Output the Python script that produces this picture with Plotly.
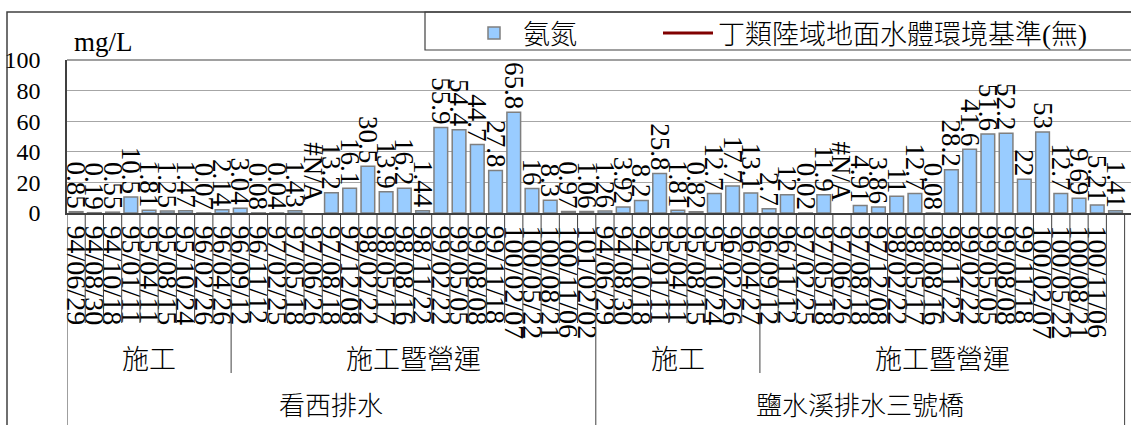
import plotly.graph_objects as go

# ---------------- data ----------------
stations = ["看西排水", "鹽水溪排水三號橋"]
phases = ["施工", "施工暨營運"]

dates_a_const = ["94/06/29", "94/08/30", "94/10/18", "95/01/11", "95/04/11",
                 "95/08/15", "95/10/24", "96/02/26", "96/04/26"]
dates_a_oper = ["96/09/12", "96/11/12", "97/02/25", "97/05/18", "97/06/26",
                "97/08/18", "97/12/08", "98/02/22", "98/05/17", "98/08/16",
                "98/11/22", "99/02/22", "99/05/05", "99/08/08", "99/11/18",
                "100/02/07", "100/05/22", "100/08/21", "100/11/06", "101/02/02"]
dates_b_const = ["94/06/29", "94/08/30", "94/10/18", "95/01/11", "95/04/11",
                 "95/08/15", "95/10/24", "96/02/26", "96/04/27"]
dates_b_oper = ["96/09/12", "96/11/12", "97/02/25", "97/05/18", "97/06/26",
                "97/08/18", "97/12/08", "98/02/22", "98/05/17", "98/08/16",
                "98/11/22", "99/02/22", "99/05/05", "99/08/08", "99/11/18",
                "100/02/07", "100/05/22", "100/08/21", "100/11/06", "101/02/02"]

nh3_a_const = [0.85, 0.19, 0.55, 10.5, 1.81, 1.25, 1.47, 0.07, 2.14]
nh3_a_oper = [3.04, 0.08, 0.04, 1.43, None, 13.2, 16.1, 30.5, 13.9, 16.2,
              1.44, 55.9, 54.4, 44.7, 27.8, 65.8, 16, 8.3, 0.97, 1.06]
nh3_b_const = [1.26, 3.92, 8.2, 25.8, 1.81, 0.82, 12.7, 17.7, 13.1]
nh3_b_oper = [2.7, 12, 0.02, 11.9, None, 4.91, 3.86, 11, 12.7, 0.08,
              28.2, 41.6, 51.6, 52.2, 22, 53, 12.7, 9.69, 5.21, 1.41]

series_name = "氨氮"
standard_name = "丁類陸域地面水體環境基準(無)"
y_unit = "mg/L"
y_ticks = [0, 20, 40, 60, 80, 100]

# ---------------- assemble ----------------
groups = [
    (stations[0], phases[0], dates_a_const, nh3_a_const),
    (stations[0], phases[1], dates_a_oper, nh3_a_oper),
    (stations[1], phases[0], dates_b_const, nh3_b_const),
    (stations[1], phases[1], dates_b_oper, nh3_b_oper),
]
dates, values = [], []
group_spans = []
for st, ph, d, v in groups:
    s = len(dates)
    dates += d
    values += v
    group_spans.append((st, ph, s, len(dates) - 1))
xs = list(range(len(dates)))

station_spans = []
for st in stations:
    idx = [g for g in group_spans if g[0] == st]
    station_spans.append((st, idx[0][2], idx[-1][3]))

def fmt(v):
    return "" if v is None else ("%g" % v)

SERIF = "Liberation Serif"
CJK = "Noto Sans CJK TC"

W, H = 1131, 425
ML, MT, MB = 67, 60, 212
plot_h = H - MT - MB
plot_w = W - ML
def py(Y):  # pixel y -> paper y
    return (H - MB - Y) / plot_h
def px(X):  # pixel x -> paper x
    return (X - ML) / plot_w

fig = go.Figure()
fig.add_trace(go.Bar(
    x=xs, y=values, name=series_name, legend="legend",
    marker=dict(color="#99CCFF", line=dict(color="#7F7F7F", width=1.5)),
    text=[fmt(v) for v in values], textposition="outside", textangle=90,
    textfont=dict(family=SERIF, size=27, color="black"),
    constraintext="none", cliponaxis=False,
))
fig.add_trace(go.Scatter(
    x=xs, y=[None] * len(xs), mode="lines", name=standard_name, legend="legend2",
    line=dict(color="#800000", width=3),
))

shapes = []
annotations = []
for i, v in enumerate(values):
    if v is None:
        annotations.append(dict(x=xs[i], y=0, xref="x", yref="y", text="#N/A",
                                showarrow=False, textangle=90, yanchor="bottom",
                                yshift=8, font=dict(family=SERIF, size=27, color="black")))

line_col = "#404040"
boundary_station, boundary_phase = set(), set()
for st, s, e in station_spans:
    boundary_station.update([s - 0.5, e + 0.5])
for st, ph, s, e in group_spans:
    boundary_phase.update([s - 0.5, e + 0.5])
for k in range(len(xs) + 1):
    b = k - 0.5
    if b in boundary_station:
        y1 = py(430)
    elif b in boundary_phase:
        y1 = py(373)
    else:
        y1 = py(323)
    shapes.append(dict(type="line", xref="x", yref="paper", x0=b, x1=b,
                       y0=0, y1=y1, line=dict(color=line_col, width=1)))

for st, ph, s, e in group_spans:
    annotations.append(dict(x=(s + e) / 2, y=py(357), xref="x", yref="paper",
                            text=ph, showarrow=False, yanchor="middle",
                            font=dict(family=CJK, size=27, color="black", weight=300)))
for st, s, e in station_spans:
    annotations.append(dict(x=(s + e) / 2, y=py(403), xref="x", yref="paper",
                            text=st, showarrow=False, yanchor="middle", borderpad=0,
                            font=dict(family=CJK, size=26, color="black", weight=300)))

annotations.append(dict(x=px(72), y=py(42), xref="paper", yref="paper", text=y_unit,
                        showarrow=False, xanchor="left", yanchor="middle",
                        font=dict(family=SERIF, size=27, color="black")))

# plot area top border
shapes.append(dict(type="line", xref="paper", yref="paper", x0=0, x1=1, y0=1, y1=1,
                   line=dict(color="#808080", width=1.5)))
# chart outer border
shapes.append(dict(type="rect", xref="paper", yref="paper", x0=px(7), x1=px(1140),
                   y0=py(12), y1=py(440), line=dict(color="#404040", width=1.5),
                   layer="below"))
# legend frame
shapes.append(dict(type="rect", xref="paper", yref="paper", x0=px(425), x1=px(1140),
                   y0=py(12), y1=py(50), line=dict(color="#404040", width=1.2),
                   layer="below"))

legend_font = dict(family=SERIF + ", " + CJK, size=27, color="black", weight=300)
fig.update_layout(
    width=W, height=H,
    margin=dict(l=ML, r=0, t=MT, b=MB, pad=0),
    paper_bgcolor="white", plot_bgcolor="white",
    bargap=0.25,
    showlegend=True,
    legend=dict(orientation="h", x=px(465), y=py(9), xanchor="left", yanchor="top",
                borderwidth=0, bgcolor="rgba(0,0,0,0)", font=legend_font, itemwidth=48),
    legend2=dict(orientation="h", x=px(658), y=py(9), xanchor="left", yanchor="top",
                 borderwidth=0, bgcolor="rgba(0,0,0,0)", font=legend_font, itemwidth=50),
    shapes=shapes, annotations=annotations,
    font=dict(family=SERIF, color="black"),
)
fig.update_xaxes(
    range=[-0.5, 57.85], tickmode="array", tickvals=xs, ticktext=dates,
    tickangle=90, tickfont=dict(family=SERIF, size=28, color="black"),
    showgrid=False, zeroline=False, showline=True, linecolor="#404040", linewidth=2,
    ticks="outside", ticklen=5, tickcolor="rgba(0,0,0,0)",
)
fig.update_yaxes(
    range=[0, 100], tickmode="array", tickvals=y_ticks,
    tickfont=dict(family=SERIF, size=24, color="black"),
    showgrid=True, gridcolor="#A6A6A6", gridwidth=1, zeroline=False,
    showline=True, linecolor="#404040", linewidth=1.5, ticks="", ticklabelstandoff=20,
)

fig.write_html("out.html", config={"displayModeBar": False},
               post_script="document.body.style.margin='0';")
